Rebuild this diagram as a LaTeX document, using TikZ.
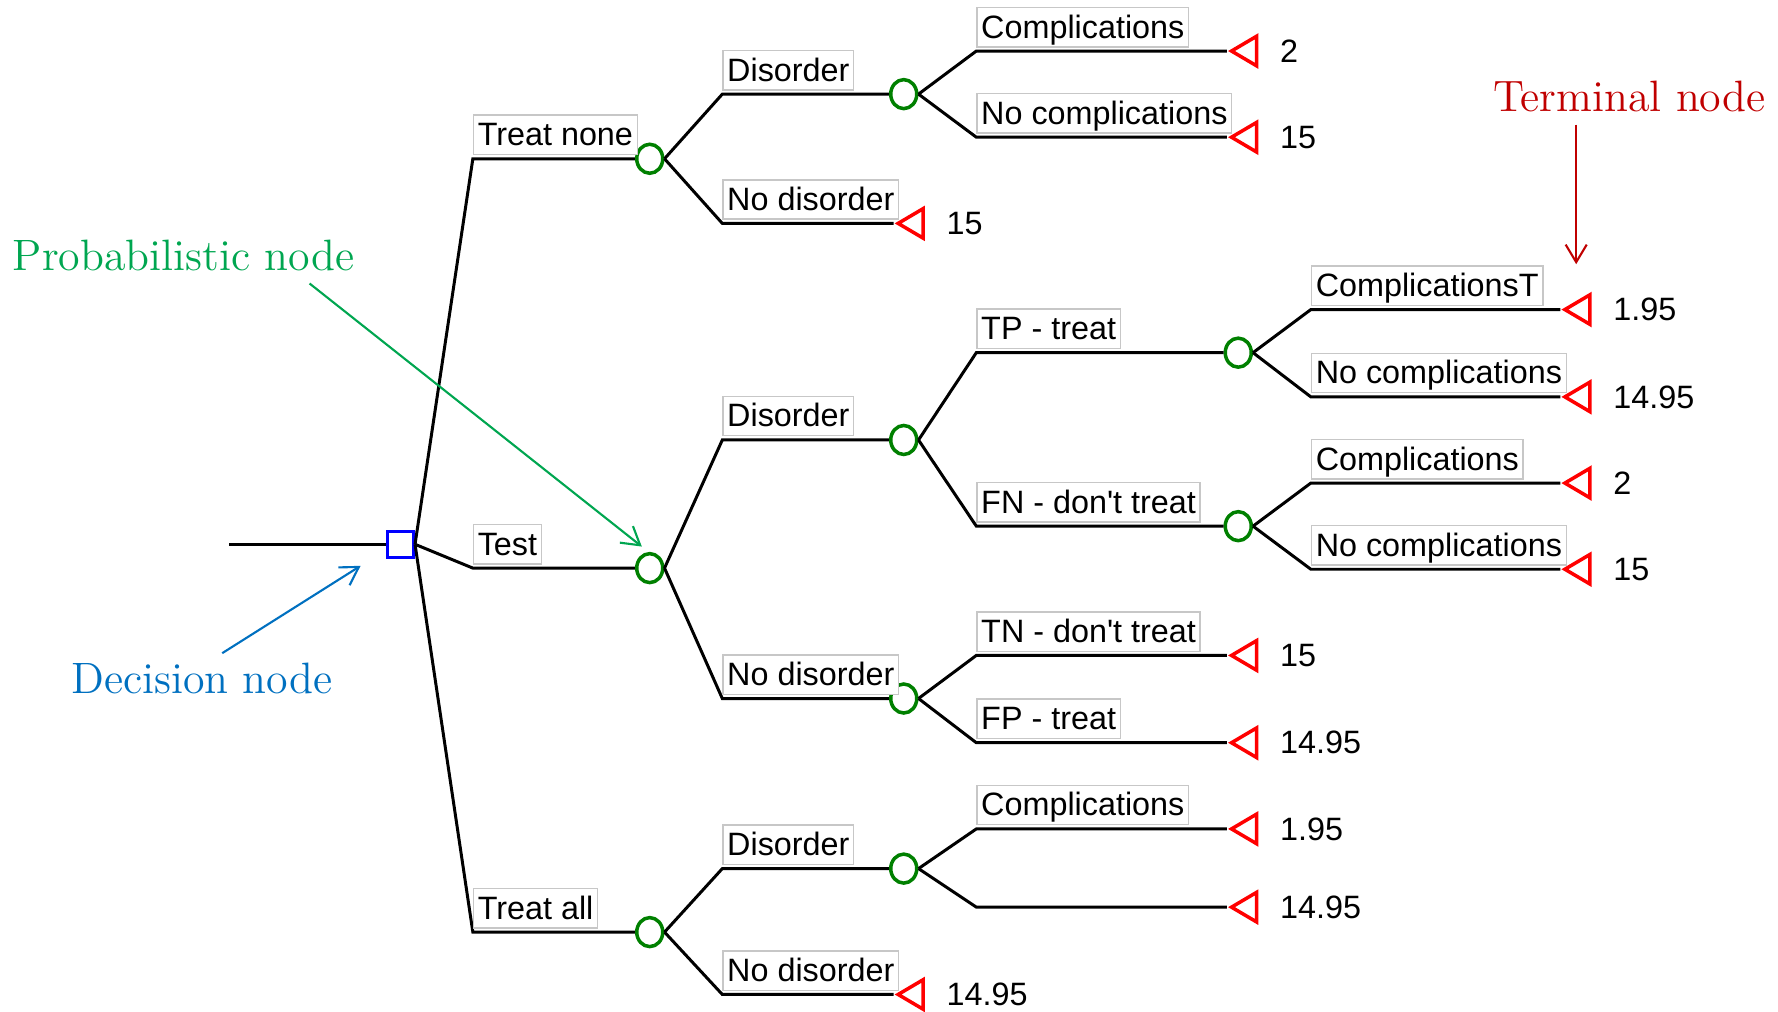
\documentclass[tikz,border=0pt]{standalone}
\usepackage{fontspec}
\newfontfamily\treefont{Liberation Sans}
\usetikzlibrary{positioning,shapes.geometric,arrows.meta}
\definecolor{chancegreen}{RGB}{0,128,0}
\definecolor{probgreen}{RGB}{0,166,80}
\definecolor{decblue}{RGB}{0,112,192}
\definecolor{termred}{RGB}{192,0,0}
\tikzset{
  branch/.style={line width=0.85pt},
  chance/.style={ellipse, draw=chancegreen, line width=1pt, minimum width=0.26cm, minimum height=0.29cm, inner sep=0pt},
  decision/.style={rectangle, draw=blue, line width=1pt, minimum size=0.26cm, inner sep=0pt},
  terminal/.style={isosceles triangle, shape border rotate=180, isosceles triangle stretches, draw=red, line width=1pt, minimum height=0.25cm, minimum width=0.295cm, inner sep=0pt, anchor=apex},
  lbl/.style={draw=black!22, fill=white, font=\treefont\fontsize{9.2}{11}\selectfont, inner xsep=1.2pt, inner ysep=1pt, text height=7.7pt, text depth=1.5pt},
  payoff/.style={font=\treefont\fontsize{9.2}{11}\selectfont, inner sep=1pt},
  note/.style={font=\fontsize{12.5}{15}\selectfont, inner sep=0pt},
  notearrow/.style={line width=0.6pt, -{Straight Barb[length=5pt,width=6pt]}},
}

\begin{document}
\begin{tikzpicture}[x=0.01134cm, y=-0.01134cm]
			%%%%% START %%%%%
			\useasboundingbox (0,0) rectangle (1568,892);
			
			\node[decision] (dec) at (353,480) {};
			\coordinate (root) at (202,480);
			\draw[branch] (root) -- (dec.west);
			
			% chance nodes
			\node[chance] (cNone) at (573,140) {};
			\node[chance] (cTest) at (573,501) {};
			\node[chance] (cAll) at (573,822) {};
			\node[chance] (cNoneD) at (797,83) {};
			\node[chance] (cTestD) at (797,388) {};
			\node[chance] (cTestN) at (797,616) {};
			\node[chance] (cAllD) at (797,766) {};
			\node[chance] (cTP) at (1092,311) {};
			\node[chance] (cFN) at (1092,464) {};
			
			% terminal nodes
			\node[terminal] (tNoneDC) at (1082,45) {};
			\node[terminal] (tNoneDN) at (1082,121) {};
			\node[terminal] (tNoneN) at (788,197) {};
			\node[terminal] (tTPC) at (1376,273) {};
			\node[terminal] (tTPN) at (1376,350) {};
			\node[terminal] (tFNC) at (1376,426) {};
			\node[terminal] (tFNN) at (1376,502) {};
			\node[terminal] (tTN) at (1082,578) {};
			\node[terminal] (tFP) at (1082,655) {};
			\node[terminal] (tAllDC) at (1082,731) {};
			\node[terminal] (tAllDN) at (1082,800) {};
			\node[terminal] (tAllN) at (788,877) {};
			
			% corners
			\coordinate (kNone) at (417,140);
			\coordinate (kTest) at (417,501);
			\coordinate (kAll) at (417,822);
			\coordinate (kNoneD) at (637,83);
			\coordinate (kNoneN) at (637,197);
			\coordinate (kTestD) at (637,388);
			\coordinate (kTestN) at (637,616);
			\coordinate (kAllD) at (637,766);
			\coordinate (kAllN) at (637,877);
			\coordinate (kNoneDC) at (861,45);
			\coordinate (kNoneDN) at (861,121);
			\coordinate (kTP) at (861,311);
			\coordinate (kFN) at (861,464);
			\coordinate (kTN) at (861,578);
			\coordinate (kFP) at (861,655);
			\coordinate (kAllDC) at (861,731);
			\coordinate (kAllDN) at (861,800);
			\coordinate (kTPC) at (1156,273);
			\coordinate (kTPN) at (1156,350);
			\coordinate (kFNC) at (1156,426);
			\coordinate (kFNN) at (1156,502);
			
			% branches
			\draw[branch] (dec.east) -- (kNone) -- (cNone.west);
			\draw[branch] (dec.east) -- (kTest) -- (cTest.west);
			\draw[branch] (dec.east) -- (kAll) -- (cAll.west);
			\draw[branch] (cNone.east) -- (kNoneD) -- (cNoneD.west);
			\draw[branch] (cNone.east) -- (kNoneN) -- (tNoneN.apex);
			\draw[branch] (cNoneD.east) -- (kNoneDC) -- (tNoneDC.apex);
			\draw[branch] (cNoneD.east) -- (kNoneDN) -- (tNoneDN.apex);
			\draw[branch] (cTest.east) -- (kTestD) -- (cTestD.west);
			\draw[branch] (cTest.east) -- (kTestN) -- (cTestN.west);
			\draw[branch] (cTestD.east) -- (kTP) -- (cTP.west);
			\draw[branch] (cTestD.east) -- (kFN) -- (cFN.west);
			\draw[branch] (cTP.east) -- (kTPC) -- (tTPC.apex);
			\draw[branch] (cTP.east) -- (kTPN) -- (tTPN.apex);
			\draw[branch] (cFN.east) -- (kFNC) -- (tFNC.apex);
			\draw[branch] (cFN.east) -- (kFNN) -- (tFNN.apex);
			\draw[branch] (cTestN.east) -- (kTN) -- (tTN.apex);
			\draw[branch] (cTestN.east) -- (kFP) -- (tFP.apex);
			\draw[branch] (cAll.east) -- (kAllD) -- (cAllD.west);
			\draw[branch] (cAll.east) -- (kAllN) -- (tAllN.apex);
			\draw[branch] (cAllD.east) -- (kAllDC) -- (tAllDC.apex);
			\draw[branch] (cAllD.east) -- (kAllDN) -- (tAllDN.apex);
			
			% branch labels
			\node[lbl, above right=1pt and 0pt of kNone] (lNone) {Treat none};
			\node[lbl, above right=1pt and 0pt of kTest] (lTest) {Test};
			\node[lbl, above right=1pt and 0pt of kAll] (lAll) {Treat all};
			\node[lbl, above right=1pt and 0pt of kNoneD] (lNoneD) {Disorder};
			\node[lbl, above right=1pt and 0pt of kNoneN] (lNoneN) {No disorder};
			\node[lbl, above right=1pt and 0pt of kNoneDC] (lNoneDC) {Complications};
			\node[lbl, above right=1pt and 0pt of kNoneDN] (lNoneDN) {No complications};
			\node[lbl, above right=1pt and 0pt of kTestD] (lTestD) {Disorder};
			\node[lbl, above right=1pt and 0pt of kTestN] (lTestN) {No disorder};
			\node[lbl, above right=1pt and 0pt of kTP] (lTP) {TP - treat};
			\node[lbl, above right=1pt and 0pt of kFN] (lFN) {FN - don't treat};
			\node[lbl, above right=1pt and 0pt of kTPC] (lTPC) {ComplicationsT};
			\node[lbl, above right=1pt and 0pt of kTPN] (lTPN) {No complications};
			\node[lbl, above right=1pt and 0pt of kFNC] (lFNC) {Complications};
			\node[lbl, above right=1pt and 0pt of kFNN] (lFNN) {No complications};
			\node[lbl, above right=1pt and 0pt of kTN] (lTN) {TN - don't treat};
			\node[lbl, above right=1pt and 0pt of kFP] (lFP) {FP - treat};
			\node[lbl, above right=1pt and 0pt of kAllD] (lAllD) {Disorder};
			\node[lbl, above right=1pt and 0pt of kAllN] (lAllN) {No disorder};
			\node[lbl, above right=1pt and 0pt of kAllDC] (lAllDC) {Complications};
			
			% payoffs
			\node[payoff, right=5pt of tNoneDC] (vNoneDC) {2};
			\node[payoff, right=5pt of tNoneDN] (vNoneDN) {15};
			\node[payoff, right=5pt of tNoneN] (vNoneN) {15};
			\node[payoff, right=5pt of tTPC] (vTPC) {1.95};
			\node[payoff, right=5pt of tTPN] (vTPN) {14.95};
			\node[payoff, right=5pt of tFNC] (vFNC) {2};
			\node[payoff, right=5pt of tFNN] (vFNN) {15};
			\node[payoff, right=5pt of tTN] (vTN) {15};
			\node[payoff, right=5pt of tFP] (vFP) {14.95};
			\node[payoff, right=5pt of tAllDC] (vAllDC) {1.95};
			\node[payoff, right=5pt of tAllDN] (vAllDN) {14.95};
			\node[payoff, right=5pt of tAllN] (vAllN) {14.95};
			
			% notes
			\node[note, text=probgreen] (noteProb) at (162,225) {Probabilistic node};
			\coordinate (probTail) at (273,250);
			\coordinate (probHead) at (566,482);
			\draw[notearrow, probgreen] (probTail) -- (probHead);
			
			\node[note, text=decblue] (noteDec) at (178,598) {Decision node};
			\coordinate (decTail) at (196,576);
			\coordinate (decHead) at (318,499);
			\draw[notearrow, decblue] (decTail) -- (decHead);
			
			\node[note, text=termred] (noteTerm) at (1437,85) {Terminal node};
			\coordinate (termTail) at (1390,110);
			\coordinate (termHead) at (1390,233);
			\draw[notearrow, termred] (termTail) -- (termHead);
			%%%%% END %%%%%
		\end{tikzpicture}
\end{document}
